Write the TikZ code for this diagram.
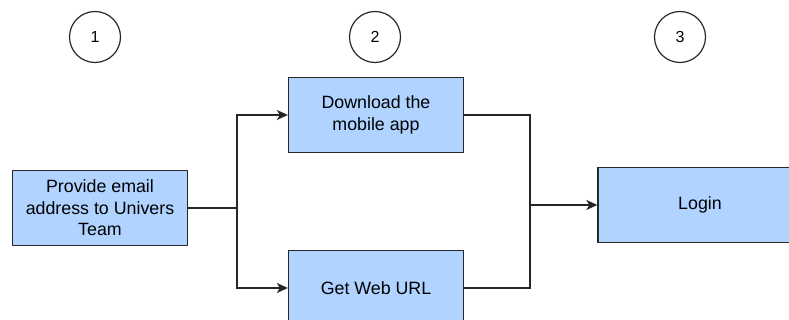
\documentclass[tikz,border=0pt]{standalone}
\usepackage{fontspec}
\setmainfont{Liberation Sans}
\usetikzlibrary{arrows.meta}
\definecolor{boxfill}{RGB}{176,212,255}
\definecolor{boxline}{RGB}{40,40,40}
\begin{document}
\begin{tikzpicture}[x=1pt,y=1pt,
  box/.style={draw=boxline,fill=boxfill,line width=1.3pt,minimum width=175pt,minimum height=75pt,align=center,font=\fontsize{17.8}{21.5}\selectfont,inner sep=0pt},
  num/.style={circle,draw=boxline,line width=1.2pt,minimum size=51pt,inner sep=0pt,font=\fontsize{16}{19}\selectfont},
  conn/.style={line width=1.5pt,draw=black!85},
  arr/.style={conn,-{Stealth[length=11pt,width=10pt,inset=3pt]}}]
\useasboundingbox (0,0) rectangle (789,320);
\begin{scope}
\clip (0,0) rectangle (789,320);
\node[num] (c1) at (95,283) {1};
\node[num] (c2) at (375,283) {2};
\node[num] (c3) at (680,283) {3};
\node[box] (prov) at (100,112) {Provide email\\address to Univers\\Team};
\node[box] (dl) at (376,205) {Download the\\mobile app};
\node[box] (web) at (376,32) {Get Web URL};
\node[box,minimum width=204pt] (login) at (700,115) {Login};
\coordinate (j1) at (237,112);
\coordinate (j2) at (530,115);
\draw[conn] (prov.east) -- (j1);
\draw[arr] (j1) |- (dl.west);
\draw[arr] (j1) |- (web.west);
\draw[conn] (dl.east) -| (j2);
\draw[conn] (web.east) -| (j2);
\draw[arr] (j2) -- (login.west);
\end{scope}
\end{tikzpicture}
\end{document}
